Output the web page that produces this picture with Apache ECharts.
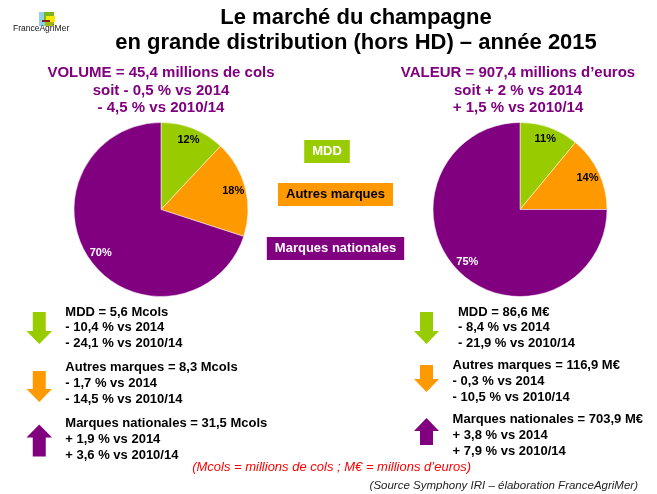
<!DOCTYPE html>
<html>
<head>
<meta charset="utf-8">
<script src="https://cdn.jsdelivr.net/npm/echarts@6/dist/echarts.min.js"></script>
<style>
  html, body { margin: 0; padding: 0; background: #fff; }
  #main { width: 657px; height: 494px; }
</style>
</head>
<body>
<div id="main"></div>
<script>
// categories and shares (%)
var categories = ["MDD", "Autres marques", "Marques nationales"];
var colors = ["#99CC00", "#FF9900", "#800080"];
var labelColors = ["#000", "#000", "#fff"];
var volumeShares = [12, 18, 70];
var valueShares = [11, 14, 75];

// totals
var volumeTotal = 45.4, volumeTotalVs2014 = -0.5, volumeTotalVs201014 = -4.5;
var valueTotal = 907.4, valueTotalVs2014 = 2, valueTotalVs201014 = 1.5;

// per category figures
var volumeMcols = [5.6, 8.3, 31.5];
var volumeVs2014 = [-10.4, -1.7, 1.9];
var volumeVs201014 = [-24.1, -14.5, 3.6];
var valueMeur = [86.6, 116.9, 703.9];
var valueVs2014 = [-8.4, -0.3, 3.8];
var valueVs201014 = [-21.9, -10.5, 7.9];

var FONT = "'Liberation Sans', Arial, sans-serif";

function num(v) {
  return String(Math.abs(v)).replace(".", ",");
}
function signed(v) {
  return (v < 0 ? "- " : "+ ") + num(v);
}

function text(x, y, str, size, color, extra) {
  var st = {
    text: str,
    fill: color,
    font: (extra && extra.font) || ("bold " + size + "px " + FONT),
    textAlign: (extra && extra.align) || "left",
    textVerticalAlign: (extra && extra.valign) || "top",
    lineHeight: (extra && extra.lh) || size
  };
  if (extra && extra.bg) {
    st.backgroundColor = extra.bg;
    st.padding = [5, 8, 5, 8];
  }
  return { type: "text", x: x, y: y, silent: true, style: st };
}

// block arrow, down or up
function arrow(x, y, w, h, down, color) {
  var sw = 13, hl = 13, s0 = x + (w - sw) / 2, s1 = s0 + sw;
  var pts;
  if (down) {
    pts = [[s0, y], [s1, y], [s1, y + h - hl], [x + w, y + h - hl], [x + w / 2, y + h], [x, y + h - hl], [s0, y + h - hl]];
  } else {
    pts = [[x + w / 2, y], [x + w, y + hl], [s1, y + hl], [s1, y + h], [s0, y + h], [s0, y + hl], [x, y + hl]];
  }
  return { type: "polygon", silent: true, shape: { points: pts }, style: { fill: color } };
}

var graphics = [];

// logo
graphics.push({ type: "rect", shape: { x: 39, y: 12, width: 6, height: 14 }, style: { fill: "#8fd0ea" } });
graphics.push({ type: "rect", shape: { x: 44, y: 12, width: 10, height: 8 }, style: { fill: "#7cb518" } });
graphics.push({ type: "rect", shape: { x: 46, y: 16, width: 9, height: 6 }, style: { fill: "#f5e900" } });
graphics.push({ type: "rect", shape: { x: 42, y: 20, width: 8, height: 2 }, style: { fill: "#8b1a1a" } });
graphics.push({ type: "rect", shape: { x: 45, y: 22, width: 9, height: 4 }, style: { fill: "#a3b800" } });
graphics.push(text(13, 29, "FranceAgriMer", 8.5, "#111", { font: "8.5px " + FONT, valign: "middle" }));

// title
graphics.push(text(356, 5.6, "Le marché du champagne\nen grande distribution (hors HD) – année 2015", 22, "#000", { align: "center", lh: 25 }));

// headers
graphics.push(text(161, 64.2, [
  "VOLUME = " + num(volumeTotal) + " millions de cols",
  "soit " + signed(volumeTotalVs2014) + " % vs 2014",
  signed(volumeTotalVs201014) + " % vs 2010/14"
].join("\n"), 15, "#800080", { align: "center", lh: 17.5 }));
graphics.push(text(518, 64.2, [
  "VALEUR = " + num(valueTotal) + " millions d’euros",
  "soit " + signed(valueTotalVs2014) + " % vs 2014",
  signed(valueTotalVs201014) + " % vs 2010/14"
].join("\n"), 15, "#800080", { align: "center", lh: 17.5 }));

// legend boxes
var legendX = [327, 335.5, 335.5];
var legendY = [151.5, 194.5, 248.5];
categories.forEach(function (c, i) {
  graphics.push(text(legendX[i], legendY[i], c, 13, i === 1 ? "#000" : "#fff", { align: "center", valign: "middle", bg: colors[i] }));
});

// detail blocks
var leftTextX = [65.3, 65.3, 65.3];
var leftTextY = [304.2, 360, 416];
var leftArrowY = [312, 371, 424.5];
var leftArrowH = [32, 31, 32];
var rightTextX = [458, 452.6, 452.6];
var rightTextY = [304.2, 358, 412];
var rightArrowY = [312, 365, 418];
var rightArrowH = [32, 27, 27];

categories.forEach(function (c, i) {
  graphics.push(arrow(26.5, leftArrowY[i], 25.5, leftArrowH[i], volumeVs2014[i] < 0, colors[i]));
  graphics.push(text(leftTextX[i], leftTextY[i], [
    c + " = " + num(volumeMcols[i]) + " Mcols",
    signed(volumeVs2014[i]) + " % vs 2014",
    signed(volumeVs201014[i]) + " % vs 2010/14"
  ].join("\n"), 13, "#000", { lh: 15.7 }));

  graphics.push(arrow(414, rightArrowY[i], 25, rightArrowH[i], valueVs2014[i] < 0, colors[i]));
  graphics.push(text(rightTextX[i], rightTextY[i], [
    c + " = " + num(valueMeur[i]) + " M€",
    signed(valueVs2014[i]) + " % vs 2014",
    signed(valueVs201014[i]) + " % vs 2010/14"
  ].join("\n"), 13, "#000", { lh: 15.7 }));
});

// notes
graphics.push(text(331.6, 467, "(Mcols = millions de cols ; M€ = millions d’euros)", 13, "#ff0000",
  { font: "italic 13px " + FONT, align: "center", valign: "middle" }));
graphics.push(text(638, 486, "(Source Symphony IRI – élaboration FranceAgriMer)", 11.5, "#222",
  { font: "italic 11.5px " + FONT, align: "right", valign: "middle" }));

function pieData(values) {
  return values.map(function (v, i) {
    return { name: categories[i], value: v, itemStyle: { color: colors[i] } };
  });
}
function labelData(values) {
  return values.map(function (v, i) {
    return { name: categories[i], value: v, label: { color: labelColors[i] } };
  });
}
function pieSeries(values, center) {
  return [{
    type: "pie",
    center: center,
    radius: 87,
    startAngle: 90,
    clockwise: true,
    silent: true,
    animation: false,
    label: { show: false },
    labelLine: { show: false },
    itemStyle: { borderColor: "#fff", borderWidth: 0.5 },
    data: pieData(values)
  }, {
    // transparent ring, only used to place the % labels near the rim
    type: "pie",
    center: center,
    radius: [56, 87],
    startAngle: 90,
    clockwise: true,
    silent: true,
    animation: false,
    itemStyle: { color: "rgba(0,0,0,0)" },
    label: {
      show: true,
      position: "inside",
      formatter: "{c}%",
      fontFamily: FONT,
      fontWeight: "bold",
      fontSize: 11
    },
    labelLine: { show: false },
    data: labelData(values)
  }];
}

var chart = echarts.init(document.getElementById("main"));
var option = {
  backgroundColor: "#fff",
  animation: false,
  series: pieSeries(volumeShares, [161, 209.5]).concat(pieSeries(valueShares, [520, 209.5])),
  graphic: graphics
};
chart.setOption(option);
</script>
</body>
</html>
